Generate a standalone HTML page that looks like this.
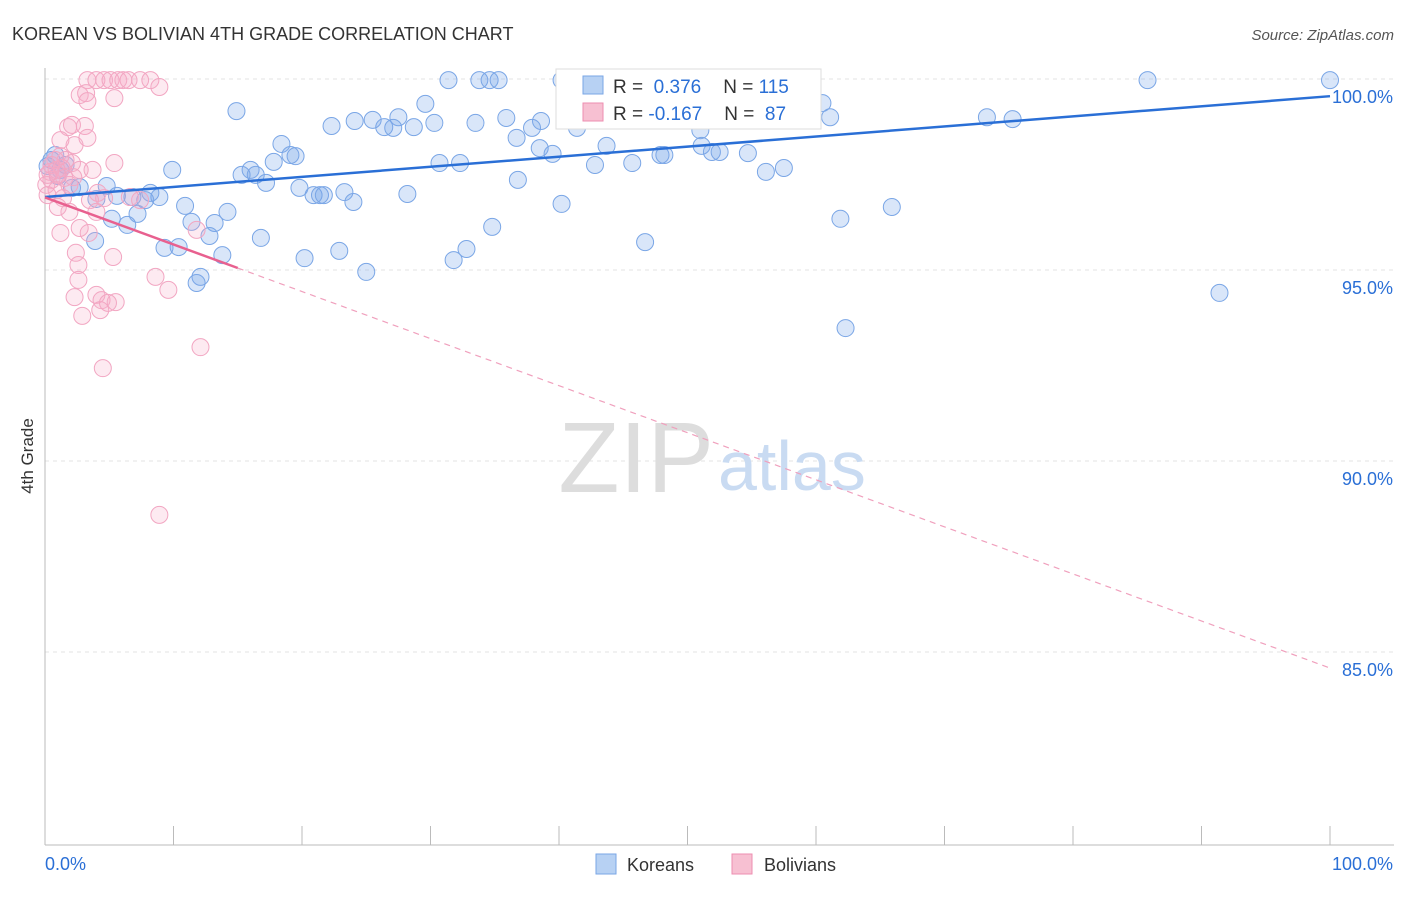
<!DOCTYPE html>
<html><head><meta charset="utf-8"><style>
body{margin:0;background:#fff;font-family:"Liberation Sans",sans-serif;}
svg text{font-family:"Liberation Sans",sans-serif;}
</style></head><body>
<svg id="chart" width="1406" height="892" xmlns="http://www.w3.org/2000/svg">
<text x="12" y="40" font-size="18" fill="#333">KOREAN VS BOLIVIAN 4TH GRADE CORRELATION CHART</text>
<text x="1394" y="40" font-size="15" fill="#555" text-anchor="end" font-style="italic">Source: ZipAtlas.com</text>
<text x="33" y="456" font-size="17" fill="#333" transform="rotate(-90 33 456)" text-anchor="middle">4th Grade</text>
<g id="grid"></g>
<g id="axes"></g>
<text x="714" y="492" font-size="100" fill="#ddd" text-anchor="end" font-family="Liberation Serif">ZIP</text>
<text x="718" y="490" font-size="70" fill="#c9dbf2">atlas</text>
<g id="pts"></g>
<g id="trends"></g>
<g>
<rect x="556" y="69" width="265" height="60" fill="#fff" stroke="#ddd"/>
<rect x="583" y="76" width="20" height="18" fill="#b7d1f3" stroke="#7aa6e6"/>
<text x="613" y="93" font-size="19" fill="#333">R = <tspan fill="#2a6fd6">&#160;0.376</tspan><tspan dx="22">N = </tspan><tspan fill="#2a6fd6">115</tspan></text>
<rect x="583" y="103" width="20" height="18" fill="#f7c0d2" stroke="#ee8eb0"/>
<text x="613" y="120" font-size="19" fill="#333">R = <tspan fill="#2a6fd6">-0.167</tspan><tspan dx="22">N = </tspan><tspan fill="#2a6fd6">&#160;87</tspan></text>
</g>
<g>
<rect x="596" y="854" width="20" height="20" fill="#b7d1f3" stroke="#7aa6e6"/>
<text x="627" y="871" font-size="18" fill="#333">Koreans</text>
<rect x="732" y="854" width="20" height="20" fill="#f7c0d2" stroke="#ee8eb0"/>
<text x="764" y="871" font-size="18" fill="#333">Bolivians</text>
</g>
</svg>
<script>
const koreanX=[14.9,31.4,33.8,34.6,35.3,40.2,40.9,47.1,50.2,51.9,58.8,85.8,100,60.5,61.1,73.3,75.3,29.6,27.5,25.5,24.1,22.3,26.4,27.1,28.7,30.3,33.5,35.9,38.6,37.9,36.7,41.4,43.7,51.0,53.8,18.4,19.1,19.5,17.8,16.0,15.3,16.4,17.2,9.9,30.7,32.3,38.5,39.5,42.8,45.7,47.9,48.2,51.1,51.9,52.5,54.7,56.1,57.5,36.8,19.8,20.9,21.4,21.7,23.3,24.0,28.2,40.2,8.2,8.9,7.8,6.8,4.8,5.6,4.0,2.7,2.1,1.2,0.5,0.8,10.9,14.2,7.2,5.2,6.4,11.4,13.2,12.8,16.8,3.9,9.3,10.4,13.8,20.2,22.9,25.0,31.8,32.8,34.8,46.7,61.9,65.9,91.4,62.3,12.1,11.8,1.6,1.0,0.2];
const koreanY=[99.16,99.97,99.97,99.97,99.97,99.97,99.97,99.97,99.97,99.97,99.97,99.97,99.97,99.37,99.0,99.0,98.95,99.35,99.0,98.93,98.9,98.77,98.74,98.72,98.74,98.85,98.85,98.98,98.9,98.72,98.46,98.72,98.25,98.66,98.98,98.30,98.01,97.98,97.83,97.62,97.49,97.49,97.28,97.62,97.80,97.80,98.19,98.04,97.75,97.80,98.01,98.01,98.25,98.09,98.09,98.06,97.57,97.67,97.36,97.15,96.96,96.96,96.96,97.04,96.78,96.99,96.73,97.02,96.91,96.83,96.91,97.2,96.94,96.86,97.17,97.15,97.62,97.88,98.01,96.68,96.52,96.47,96.34,96.18,96.26,96.23,95.89,95.84,95.76,95.58,95.60,95.39,95.31,95.50,94.95,95.26,95.55,96.13,95.73,96.34,96.65,94.40,93.48,94.82,94.66,97.75,97.46,97.72];
const bolivianX=[3.3,4.0,4.6,5.1,5.7,6.1,6.5,7.4,8.2,8.9,2.7,3.2,3.3,5.4,1.8,2.1,3.1,2.3,1.2,3.3,1.6,0.8,2.1,1.3,2.7,3.7,5.4,0.4,0.5,1.0,0.1,0.9,1.9,1.4,4.1,4.6,6.6,3.5,1.0,1.9,4.0,1.2,3.4,2.7,2.4,2.6,2.6,5.3,8.6,9.6,2.3,4.0,4.4,5.5,2.9,4.3,4.9,12.1,4.5,8.9,11.8,7.4,0.5,0.2,0.2,1.5,0.9,1.2,2.2];
const bolivianY=[99.97,99.97,99.97,99.97,99.97,99.97,99.97,99.97,99.97,99.79,99.58,99.63,99.42,99.5,98.74,98.80,98.77,98.27,98.40,98.46,97.88,97.88,97.80,97.67,97.62,97.62,97.80,97.57,97.36,97.49,97.23,97.09,97.23,96.88,97.02,96.88,96.91,96.83,96.65,96.52,96.52,95.97,95.97,96.10,95.45,95.13,94.74,95.34,94.82,94.48,94.29,94.35,94.21,94.16,93.80,93.95,94.14,92.98,92.43,88.59,96.05,96.83,97.75,97.49,96.96,97.41,97.62,97.98,97.43];
const blueTrend=[96.91,99.55];
const pinkTrend=[96.9,84.58];
const pinkSolidEnd=15;
const yTicks=[100,95,90,85];
const xTicks=[0,10,20,30,40,50,60,70,80,90,100];
const NS="http://www.w3.org/2000/svg";
const X=v=>45+v*12.85;
const Y=v=>79+(100-v)*38.2;
function mk(tag,attrs,parent){const e=document.createElementNS(NS,tag);for(const k in attrs)e.setAttribute(k,attrs[k]);parent.appendChild(e);return e;}
const grid=document.getElementById('grid'),axes=document.getElementById('axes'),pts=document.getElementById('pts'),tr=document.getElementById('trends');
yTicks.forEach(t=>{
 const l=mk('line',{x1:45,x2:1394,y1:Y(t),y2:Y(t),stroke:'#e3e3e3','stroke-dasharray':'4,4'},grid);
 
 
 const tx=mk('text',{x:1393,y:Y(t)+24,'font-size':18,fill:'#2a6fd6','text-anchor':'end'},axes);
 tx.textContent=t.toFixed(1)+'%';
 
 
});
const ax=mk('line',{x1:45,x2:45,y1:68,y2:845,stroke:'#bbb'},axes);


const bx=mk('line',{x1:45,x2:1394,y1:845,y2:845,stroke:'#bbb'},axes);


xTicks.forEach(t=>{
 const l=mk('line',{x1:X(t),x2:X(t),y1:826,y2:845,stroke:'#bbb'},axes);
 
 
});
[[0,'start'],[100,'end']].forEach(([t,a])=>{
 const tx=mk('text',{x:t==0?45:1393,y:870,'font-size':18,fill:'#2a6fd6','text-anchor':a},axes);
 tx.textContent=t.toFixed(1)+'%';
 
 
});
koreanX.forEach((x,i)=>{
 const c=mk('circle',{cx:X(x),cy:Y(koreanY[i]),r:8.5,fill:'rgba(120,165,232,0.28)',stroke:'#7aa6e6','stroke-width':1},pts);
 
 
});
bolivianX.forEach((x,i)=>{
 const c=mk('circle',{cx:X(x),cy:Y(bolivianY[i]),r:8.5,fill:'rgba(246,170,198,0.25)',stroke:'#f2a6c2','stroke-width':1},pts);
 
 
});
const bt=mk('line',{x1:X(0),y1:Y(blueTrend[0]),x2:X(100),y2:Y(blueTrend[1]),stroke:'#2a6fd6','stroke-width':2.5},tr);


const pv=x=>pinkTrend[0]+(pinkTrend[1]-pinkTrend[0])*x/100;
const ps=mk('line',{x1:X(0),y1:Y(pv(0)),x2:X(pinkSolidEnd),y2:Y(pv(pinkSolidEnd)),stroke:'#e8608f','stroke-width':2.5},tr);


const pd=mk('line',{x1:X(pinkSolidEnd),y1:Y(pv(pinkSolidEnd)),x2:X(100),y2:Y(pv(100)),stroke:'#f0a0bd','stroke-width':1.2,'stroke-dasharray':'6,5'},tr);


</script>
</body></html>
